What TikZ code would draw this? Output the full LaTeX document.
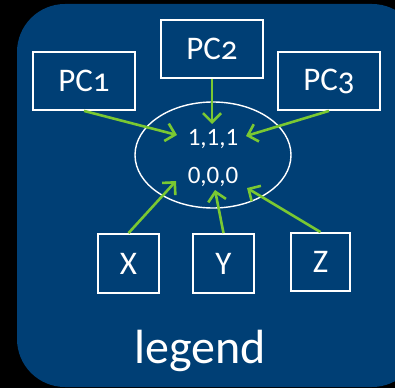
\documentclass[tikz,border=0pt]{standalone}
\usepackage{fontspec}
\setmainfont{Carlito}
\newfontfamily\oldnum[Numbers=OldStyle]{Carlito}
\usetikzlibrary{arrows.meta,shapes.geometric}
\definecolor{panelblue}{RGB}{0,63,117}
\definecolor{arrowgreen}{RGB}{122,200,50}
\tikzset{
  box/.style={draw=white, line width=1.8pt, text=white, minimum width=#1, inner sep=0pt},
  pcbox/.style={box=102pt, minimum height=58pt, font=\oldnum\fontsize{33}{33}\selectfont},
  varbox/.style={box=61pt, minimum height=59pt, font=\fontsize{33}{33}\selectfont},
  conn/.style={draw=arrowgreen, line width=2.6pt, -{Straight Barb[length=9pt,width=18pt]}},
  lbl/.style={text=white, inner sep=0pt, anchor=base}
}
\begin{document}
\begin{tikzpicture}[x=1pt,y=1pt]
\useasboundingbox (0,0) rectangle (395,388);
\fill[black] (0,0) rectangle (395,388);
\begin{scope}
\clip (0,0) rectangle (395,388);
\fill[panelblue, rounded corners=48pt] (17,1) rectangle (420,384);
\end{scope}
\node[pcbox] (pc1) at (84,307) {PC1};
\node[pcbox] (pc2) at (212,339) {PC2};
\node[pcbox] (pc3) at (329,307) {PC3};
\node[draw=white, line width=1.4pt, ellipse, minimum width=156pt, minimum height=106pt, inner sep=0pt] (ell) at (213,233) {};
\node[lbl, font=\fontsize{25}{25}\selectfont] (t111) at (213,242) {1,1,1};
\node[lbl, font=\fontsize{25}{25}\selectfont] (t000) at (213,204) {0,0,0};
\node[varbox] (x) at (128.5,124.5) {X};
\node[varbox] (y) at (223.5,124.5) {Y};
\node[varbox, minimum width=59pt, minimum height=58pt] (z) at (320.5,126) {Z};
\node[lbl, font=\fontsize{48}{48}\selectfont] (legend) at (200,25) {legend};
\coordinate (a1) at (177,253);
\coordinate (a2) at (212,264);
\coordinate (a3) at (246,252);
\coordinate (ax) at (176,207);
\coordinate (ay) at (215,198);
\coordinate (az) at (247,200);
\draw[conn] (pc1.south) -- (a1);
\draw[conn] (pc2.south) -- (a2);
\draw[conn] (pc3.south) -- (a3);
\draw[conn] (x.north) -- (ax);
\draw[conn] (y.north) -- (ay);
\draw[conn] (z.north) -- (az);
\end{tikzpicture}
\end{document}
